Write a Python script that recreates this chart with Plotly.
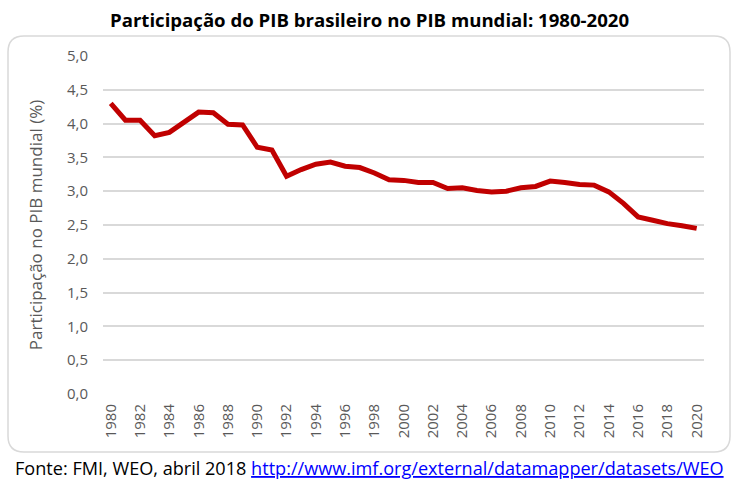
import plotly.graph_objects as go

years = list(range(1980, 2021))
share = [4.30, 4.05, 4.05, 3.82, 3.87, 4.02, 4.17, 4.16, 3.99, 3.98,
         3.65, 3.61, 3.22, 3.32, 3.40, 3.43, 3.37, 3.35, 3.27, 3.17,
         3.16, 3.13, 3.13, 3.04, 3.05, 3.01, 2.99, 3.00, 3.05, 3.07,
         3.15, 3.13, 3.10, 3.09, 2.99, 2.82, 2.62, 2.57, 2.52, 2.49,
         2.45]
x_ticks = list(range(1980, 2021, 2))
y_ticks = [0, 0.5, 1, 1.5, 2, 2.5, 3, 3.5, 4, 4.5, 5]

W, H = 738, 488
L, R, T, B = 103, 34, 56, 94
pw, ph = W - L - R, H - T - B

def px(x):
    return (x - L) / pw

def py(y):
    return (H - B - y) / ph

fig = go.Figure()
fig.add_trace(go.Scatter(x=years, y=share, mode="lines",
                         line=dict(color="#C00000", width=5), showlegend=False))

# rounded border box
x0, x1, y0, y1, r = 8, 730, 36, 452, 16
path = (f"M {px(x0+r)} {py(y0)} L {px(x1-r)} {py(y0)} "
        f"Q {px(x1)} {py(y0)} {px(x1)} {py(y0+r)} "
        f"L {px(x1)} {py(y1-r)} Q {px(x1)} {py(y1)} {px(x1-r)} {py(y1)} "
        f"L {px(x0+r)} {py(y1)} Q {px(x0)} {py(y1)} {px(x0)} {py(y1-r)} "
        f"L {px(x0)} {py(y0+r)} Q {px(x0)} {py(y0)} {px(x0+r)} {py(y0)} Z")
fig.add_shape(type="path", path=path, xref="paper", yref="paper",
              line=dict(color="#D9D9D9", width=1.5), layer="below")

fig.add_annotation(text="<b>Participação do PIB brasileiro no PIB mundial: 1980-2020</b>",
                   xref="paper", yref="paper", x=px(369), y=py(20),
                   xanchor="center", yanchor="middle", showarrow=False,
                   font=dict(family="Open Sans, sans-serif", size=18.6, color="#000000"))
fig.add_annotation(text="Fonte: FMI, WEO, abril 2018 <span style='color:#0000FF'><u>http://www.imf.org/external/datamapper/datasets/WEO</u></span>",
                   xref="paper", yref="paper", x=px(369.5), y=py(468),
                   xanchor="center", yanchor="middle", showarrow=False,
                   font=dict(family="Open Sans, sans-serif", size=18.1, color="#000000"))

fig.update_layout(
    width=W, height=H, margin=dict(l=L, r=R, t=T, b=B),
    paper_bgcolor="white", plot_bgcolor="white",
    separators=",.",
    font=dict(family="Open Sans, sans-serif", color="#595959"),
    xaxis=dict(range=[1979.47, 2020.5], tickmode="array", tickvals=x_ticks,
               ticktext=[str(v) for v in x_ticks], tickangle=-90,
               showgrid=False, zeroline=False, showline=False,
               ticklabelstandoff=6,
               tickfont=dict(size=15, color="#595959"), ticks=""),
    yaxis=dict(range=[0, 5], tickmode="array", tickvals=y_ticks,
               tickformat=".1f", showgrid=True, gridcolor="#D9D9D9", gridwidth=1.5,
               zeroline=False, showline=False, ticks="",
               ticklabelstandoff=14,
               tickfont=dict(size=15, color="#595959"),
               title=dict(text="Participação no PIB mundial (%)", standoff=20,
                          font=dict(size=17, color="#595959"))),
)
fig.write_html("out.html")
